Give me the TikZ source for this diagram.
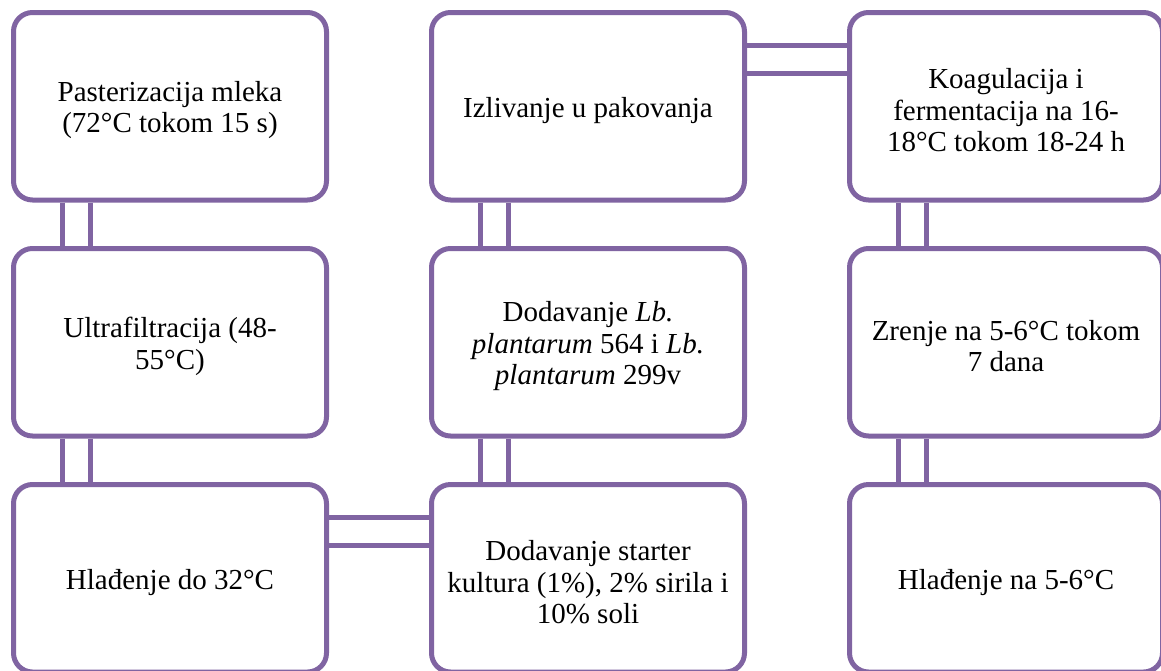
\documentclass[tikz,border=0pt]{standalone}
\usepackage{fontspec}
\setmainfont{Liberation Serif}
\definecolor{boxpurple}{HTML}{8064A2}
\tikzset{
  stepbox/.style={draw=boxpurple, line width=5pt, rounded corners=19pt, fill=white,
    minimum width=313pt, minimum height=187.5pt, inner sep=0pt},
  steptext/.style={align=center, font=\fontsize{29}{31.5}\selectfont, text=black, yshift=-4pt},
  link/.style={draw=boxpurple, line width=5pt}
}
\begin{document}
\begin{tikzpicture}[x=1pt,y=-1pt]
\useasboundingbox (0,0) rectangle (1161,670);
\clip (0,0) rectangle (1161,670);
\node[stepbox, label={[steptext]center:Pasterizacija mleka\\(72°C tokom 15 s)}] (b1) at (170,106.25) {};
\node[stepbox, label={[steptext]center:Ultrafiltracija (48-\\55°C)}] (b4) at (170,342.25) {};
\node[stepbox, label={[steptext]center:Hlađenje do 32°C}] (b7) at (170,578.25) {};
\node[stepbox, label={[steptext]center:Izlivanje u pakovanja}] (b2) at (588,106.25) {};
\node[stepbox, label={[steptext]center:Dodavanje \textit{Lb.}\\\textit{plantarum} 564 i \textit{Lb.}\\\textit{plantarum} 299v}] (b5) at (588,342.25) {};
\node[stepbox, label={[steptext]center:Dodavanje starter\\kultura (1\%), 2\% sirila i\\10\% soli}] (b8) at (588,578.25) {};
\node[stepbox, label={[steptext]center:Koagulacija i\\fermentacija na 16-\\18°C tokom 18-24 h}] (b3) at (1006,106.25) {};
\node[stepbox, label={[steptext]center:Zrenje na 5-6°C tokom\\7 dana}] (b6) at (1006,342.25) {};
\node[stepbox, label={[steptext]center:Hlađenje na 5-6°C}] (b9) at (1006,578.25) {};
% vertical double connectors (upper box south to lower box north)
\foreach \a/\b in {b1/b4, b4/b7, b2/b5, b5/b8, b3/b6, b6/b9}{
  \draw[link] ([xshift=51pt]\a.south west) -- ([xshift=51pt]\b.north west);
  \draw[link] ([xshift=79pt]\a.south west) -- ([xshift=79pt]\b.north west);
}
% horizontal double connectors
\draw[link] ([yshift=-35pt]b7.north east) -- ([yshift=-35pt]b8.north west);
\draw[link] ([yshift=-63pt]b7.north east) -- ([yshift=-63pt]b8.north west);
\draw[link] ([yshift=-35pt]b2.north east) -- ([yshift=-35pt]b3.north west);
\draw[link] ([yshift=-63pt]b2.north east) -- ([yshift=-63pt]b3.north west);
\end{tikzpicture}
\end{document}
